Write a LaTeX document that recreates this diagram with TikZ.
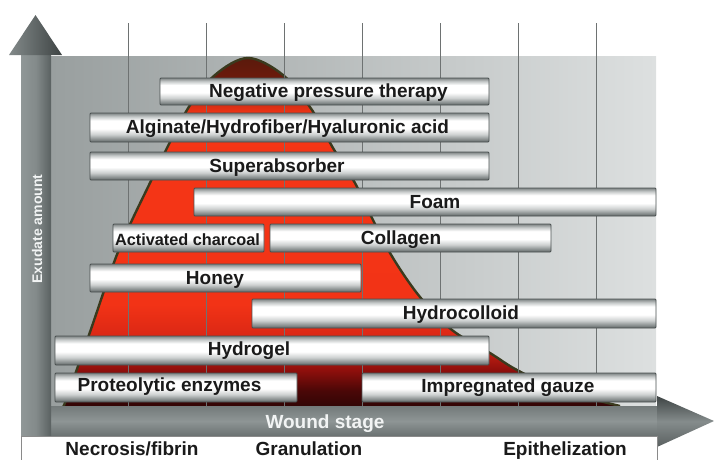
\documentclass[tikz,border=0pt]{standalone}
\usepackage{fontspec}
\setmainfont{Liberation Sans}
\definecolor{barA}{HTML}{5F6666}
\definecolor{barB}{HTML}{8A9090}
\definecolor{barC}{HTML}{CDD0D0}
\definecolor{barD}{HTML}{C4C8C8}
\definecolor{barE}{HTML}{7D8383}
\definecolor{barline}{HTML}{4A5050}
\definecolor{mA}{HTML}{2A0505}
\definecolor{mB}{HTML}{4A0707}
\definecolor{mC}{HTML}{8E0F0C}
\definecolor{mD}{HTML}{D42414}
\definecolor{mE}{HTML}{F23316}
\definecolor{mF}{HTML}{F53616}
\definecolor{mG}{HTML}{B02412}
\definecolor{mH}{HTML}{6A1A0C}
\definecolor{mI}{HTML}{5A1A0C}
\definecolor{mline}{HTML}{3A3A1E}
\definecolor{plotL}{HTML}{999F9F}
\definecolor{plotR}{HTML}{DDE0E0}
\definecolor{gridc}{HTML}{6E7272}
\definecolor{vaL}{HTML}{909797}
\definecolor{vaM}{HTML}{838A8A}
\definecolor{vaR}{HTML}{5A6161}
\definecolor{haT}{HTML}{737A7A}
\definecolor{haM}{HTML}{8E9595}
\definecolor{haB}{HTML}{6A7171}
\definecolor{hhT}{HTML}{3E4444}
\definecolor{hhM}{HTML}{858C8C}
\definecolor{hhB}{HTML}{5A6060}
\definecolor{txt}{HTML}{1A1A1A}
\definecolor{boxc}{HTML}{8A8A8A}
\definecolor{wtxt}{HTML}{F2F4F4}
\pgfdeclareverticalshading{barshade}{100bp}{color(0bp)=(barA); color(25bp)=(barA); color(30bp)=(barB); color(38bp)=(barC); color(48bp)=(white); color(62bp)=(white); color(69bp)=(barD); color(75bp)=(barE); color(100bp)=(barE)}
\pgfdeclareverticalshading{mountain}{100bp}{color(0bp)=(mA); color(25bp)=(mA); color(27.9bp)=(mB); color(30.8bp)=(mC); color(34.4bp)=(mD); color(40.1bp)=(mE); color(67bp)=(mF); color(70bp)=(mG); color(72.5bp)=(mH); color(75bp)=(mI); color(100bp)=(mI)}
\tikzset{
  bar/.style={draw=barline, line width=0.9pt, shading=barshade, rounded corners=1pt},
  lbl/.style={anchor=base, inner sep=0pt, text=txt, font=\fontsize{19}{19}\selectfont\bfseries},
  smalllbl/.style={lbl, font=\fontsize{16.3}{16.3}\selectfont\bfseries},
  wlbl/.style={anchor=base, inner sep=0pt, text=wtxt, font=\fontsize{19}{19}\selectfont\bfseries},
  gridline/.style={draw=gridc, line width=0.7pt},
  mountainline/.style={draw=mline, line width=2.4pt, line join=round}
}
\begin{document}
\begin{tikzpicture}[x=1pt,y=-1pt]
\useasboundingbox (0,0) rectangle (714,459);
% plot background
\shade[left color=plotL, right color=plotR] (51,56) rectangle (656,406);
% mountain
\shade[shading=mountain] plot[smooth,tension=0.55] coordinates {(63,406) (66,400) (90,332) (118,252) (148,187) (187,110) (215,75) (248,58) (283,75) (312,110) (333,148) (355,183) (373,220) (393,258) (420,297) (452,330) (490,353) (517,370) (560,390) (620,406)} -- cycle;
\draw[mountainline] plot[smooth,tension=0.55] coordinates {(63,406) (66,400) (90,332) (118,252) (148,187) (187,110) (215,75) (248,58) (283,75) (312,110) (333,148) (355,183) (373,220) (393,258) (420,297) (452,330) (490,353) (517,370) (560,390) (620,406)};
% grid lines
\foreach \gx in {128,206,...,596} \draw[gridline] (\gx,23) -- (\gx,406);
% horizontal arrow
\shade[top color=haT, bottom color=haB, middle color=haM] (51,406) rectangle (657,436);
\shade[top color=hhT, bottom color=hhB, middle color=hhM] (657,396) -- (714,421) -- (657,447) -- cycle;
% vertical arrow
\shade[left color=vaL, right color=vaR, middle color=vaM] (21,55) rectangle (51,436);
\shade[left color=vaM, right color=hhT] (9,55) -- (35.5,15) -- (62,55) -- cycle;
% bottom box
\draw[draw=boxc, line width=0.8pt, fill=white] (21,436) rectangle (657,470);
% bars
\shade[bar] (160,78) rectangle (489,105);
\shade[bar] (90,113) rectangle (489,142);
\shade[bar] (90,152) rectangle (489,180);
\shade[bar] (194,188) rectangle (656,216);
\shade[bar] (113,224) rectangle (264,252);
\shade[bar] (270,224) rectangle (551,252);
\shade[bar] (90,264) rectangle (361,292);
\shade[bar] (252,299) rectangle (656,328);
\shade[bar] (55,336) rectangle (489,365);
\shade[bar] (55,373) rectangle (297,402);
\shade[bar] (362,373) rectangle (656,402);
% bar labels
\node[lbl] (npt) at (328.5,97) {Negative pressure therapy};
\node[lbl] (alg) at (287.5,133) {Alginate/Hydrofiber/Hyaluronic acid};
\node[lbl] (sup) at (277,172) {Superabsorber};
\node[lbl] (foam) at (435,208) {Foam};
\node[smalllbl] (ach) at (187.5,245) {Activated charcoal};
\node[lbl] (col) at (401,244.5) {Collagen};
\node[lbl] (hon) at (215,284) {Honey};
\node[lbl] (hcol) at (461,319) {Hydrocolloid};
\node[lbl] (hgel) at (249,355) {Hydrogel};
\node[lbl] (prot) at (169.5,391) {Proteolytic enzymes};
\node[lbl] (gauze) at (508,392) {Impregnated gauze};
% axis labels
\node[wlbl] (ws) at (325,428) {Wound stage};
\node[rotate=90, inner sep=0pt, text=wtxt, font=\fontsize{14}{14}\selectfont\bfseries] (ex) at (37,229) {Exudate amount};
\node[lbl] (nec) at (132,455) {Necrosis/fibrin};
\node[lbl] (gran) at (309,455) {Granulation};
\node[lbl] (epi) at (565,455) {Epithelization};
\end{tikzpicture}
\end{document}
